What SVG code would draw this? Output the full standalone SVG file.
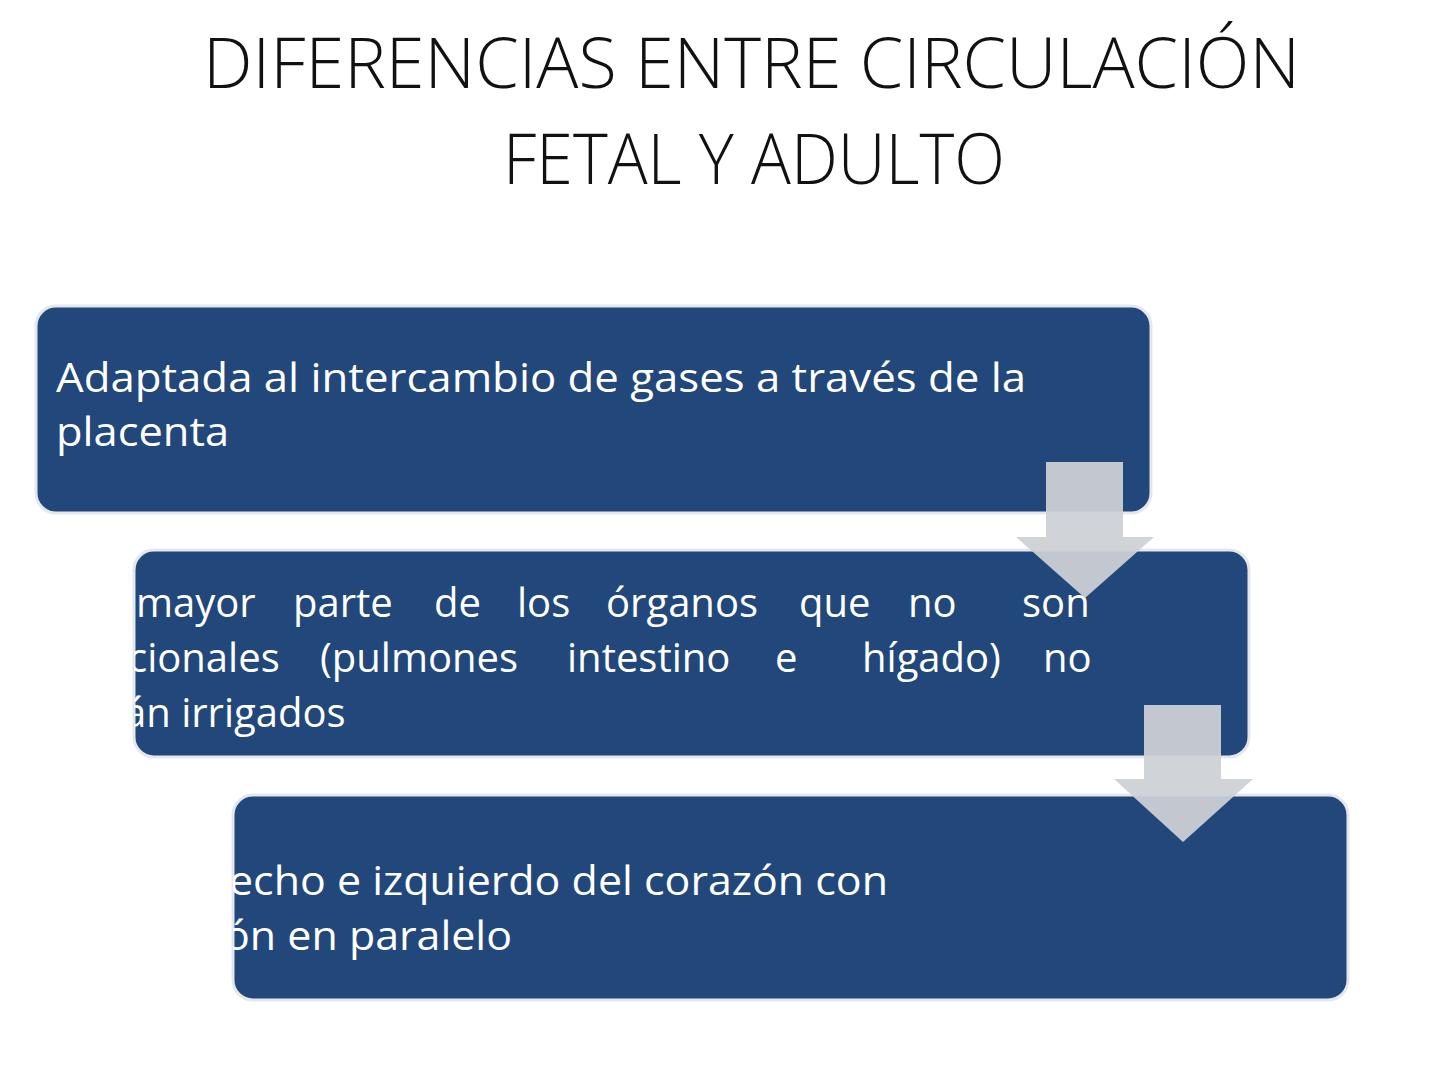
<svg xmlns="http://www.w3.org/2000/svg" width="1440" height="1080" viewBox="0 0 1440 1080">
<style>
.title{font-family:"Open Sans","Liberation Sans",sans-serif;font-weight:300;font-size:70px;fill:#111111}
.box{fill:#22477a;stroke:#e4e8ec;stroke-width:3}
.txt{font-family:"Open Sans","Liberation Sans",sans-serif;font-size:40px;fill:#ffffff}
.arrow{fill:#cdd0d6;fill-opacity:0.94}
</style>
<defs>
<clipPath id="c2"><rect x="134" y="550" width="1115" height="207" rx="20"/></clipPath>
<clipPath id="c3"><rect x="233" y="795" width="1115" height="205" rx="20"/></clipPath>
</defs>
<rect width="1440" height="1080" fill="#ffffff"/>
<g id="title">
<text class="title" x="203" y="88" textLength="1097" lengthAdjust="spacingAndGlyphs">DIFERENCIAS ENTRE CIRCULACIÓN</text>
<text class="title" x="503" y="184" textLength="502" lengthAdjust="spacingAndGlyphs">FETAL Y ADULTO</text>
</g>
<g id="node1">
<rect class="box" x="36" y="306" width="1115" height="207" rx="20"/>
<text class="txt" x="56" y="392" textLength="970" lengthAdjust="spacingAndGlyphs">Adaptada al intercambio de gases a través  de la</text>
<text class="txt" x="56" y="446" textLength="173" lengthAdjust="spacingAndGlyphs">placenta</text>
</g>
<g id="node2">
<rect class="box" x="134" y="550" width="1115" height="207" rx="20"/>
<g clip-path="url(#c2)">
<text class="txt" y="617"><tspan x="136">mayor</tspan><tspan x="293">parte</tspan><tspan x="434">de</tspan><tspan x="517">los</tspan><tspan x="606">órganos</tspan><tspan x="799">que</tspan><tspan x="908">no</tspan><tspan x="1022">son</tspan></text>
<text class="txt" y="672"><tspan x="128">cionales</tspan><tspan x="320">(pulmones</tspan><tspan x="567">intestino</tspan><tspan x="775">e</tspan><tspan x="862">hígado)</tspan><tspan x="1043">no</tspan></text>
<text class="txt" x="124" y="727">án irrigados</text>
</g>
</g>
<g id="node3">
<rect class="box" x="233" y="795" width="1115" height="205" rx="20"/>
<g clip-path="url(#c3)">
<text class="txt" x="229" y="895" textLength="659" lengthAdjust="spacingAndGlyphs">echo e izquierdo del corazón con</text>
<text class="txt" x="224" y="950" textLength="288" lengthAdjust="spacingAndGlyphs">ón en paralelo</text>
</g>
</g>
<g id="connectors">
<polygon class="arrow" points="1046,462 1123,462 1123,537 1154,537 1085,598 1016,537 1046,537"/>
<polygon class="arrow" points="1144,705 1221,705 1221,779 1253,779 1183,842 1114,779 1144,779"/>
</g>
</svg>
